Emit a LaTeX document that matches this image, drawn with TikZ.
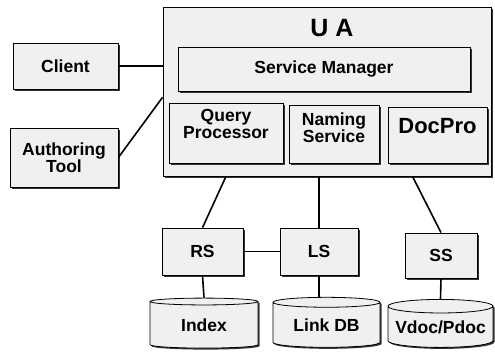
\documentclass[tikz,border=0pt]{standalone}
\usepackage{fontspec}
\setmainfont{Liberation Sans}
\usetikzlibrary{shapes.geometric,shadows}
\tikzset{%
  block/.style   = {shape=rectangle, draw, thick, fill=black!6,%
                    align=center, inner sep=4pt,%
                    drop shadow={shadow xshift=1.5pt, shadow yshift=-1.5pt,%
                                 fill=black!80, opacity=1},%
                    font=\fontsize{17.5}{17}\selectfont\bfseries},%
  store/.style   = {block, shape=cylinder, shape border rotate=90,%
                    aspect=0.15, inner sep=0pt},%
  link/.style    = {line width=1.6pt}%
}
\begin{document}
\begin{tikzpicture}[x=1pt,y=-1pt]
  \useasboundingbox (0,0) rectangle (495,351);
  % user agent and its parts
  \node[block, minimum width=328pt, minimum height=169pt] (ua) at (327,91.5) {};
  \node[font=\fontsize{25}{26}\selectfont\bfseries] (uatitle) at (332,28) {U A};
  \node[block, minimum width=292pt, minimum height=44pt] (sm) at (324,69) {Service Manager};
  \node[block, minimum width=114pt, text height=31pt, text depth=21pt] (qp) at (226,133)
    {Query\\Processor};
  \node[block, minimum width=90pt, text height=33pt, text depth=17pt] (ns) at (334,134)
    {Naming\\Service};
  \node[block, minimum width=99pt, text height=22pt, text depth=26pt,
        font=\fontsize{22}{23}\selectfont\bfseries] (dp) at (437.5,135) {DocPro};
  % front ends
  \node[block, minimum width=105pt, minimum height=46pt] (client) at (65.5,66) {Client};
  \node[block, minimum width=108pt, minimum height=59pt] (tool) at (64,157.5)
    {Authoring\\Tool};
  % servers
  \node[block, minimum width=81pt, minimum height=47pt] (rs) at (202.5,251.5) {RS};
  \node[block, minimum width=78pt, minimum height=47pt] (ls) at (319,251.5) {LS};
  \node[block, minimum width=72pt, minimum height=45pt] (ss) at (441,255.5) {SS};
  % databases
  \node[store, minimum width=108pt, minimum height=50pt] (index) at (204,325) {Index};
  \node[store, minimum width=107pt, minimum height=50pt] (linkdb) at (326.5,325) {Link DB};
  \node[store, minimum width=105pt, minimum height=48pt] (vdoc) at (440.5,327) {Vdoc/Pdoc};

  \draw[link] (client.east) -- (client.east -| ua.west);
  \draw[link] (tool.east) -- (ua.182);
  \draw[link] (qp.south |- ua.south) -- (rs.north);
  \draw[link] (ls.north |- ua.south) -- (ls.north);
  \draw[link] (dp.south |- ua.south) ++(-25,0) -- (ss.north);
  \draw[link] (rs.east) -- (ls.west);
  \draw[link] (rs.south) -- (index.top);
  \draw[link] (ls.south) -- (ls.south |- linkdb.top);
  \draw[link] (ss.south) -- (vdoc.top);
\end{tikzpicture}
\end{document}
